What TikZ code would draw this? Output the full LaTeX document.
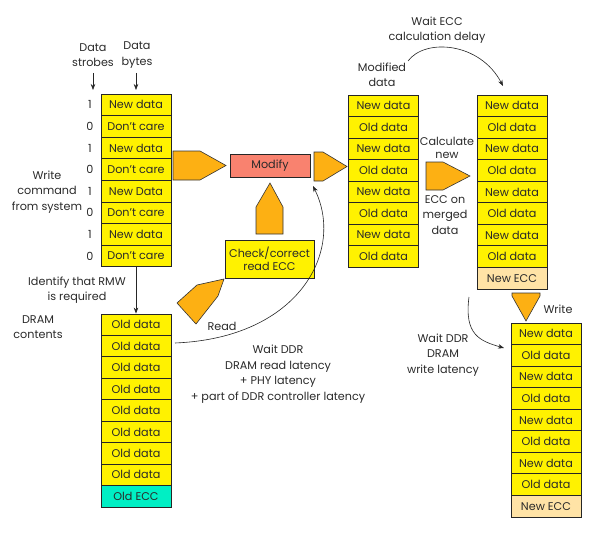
\documentclass[tikz,border=0pt]{standalone}
\usepackage{fontspec}
\setmainfont{Poppins}
\usetikzlibrary{arrows.meta}
\definecolor{cyel}{HTML}{FFF200}
\definecolor{corg}{HTML}{FDB013}
\definecolor{cmint}{HTML}{00EFC4}
\definecolor{ctan}{HTML}{FFE3A6}
\definecolor{csal}{HTML}{F9826F}
\definecolor{ctxt}{HTML}{2A2A2A}
\begin{document}
\begin{tikzpicture}[x=1pt,y=-1pt, font=\fontsize{11.2}{15.5}\selectfont,
 cell/.style={draw=black!85, line width=0.8pt, fill=cyel, minimum width=70pt, minimum height=21.5pt, inner sep=0pt, text=ctxt},
 lbl/.style={align=center, text=ctxt, inner sep=0pt},
 blockarrow/.style={fill=corg, draw=black!80, line width=0.6pt, line join=miter},
 con/.style={-{Stealth[length=6pt,width=4.5pt]}, line width=0.6pt, draw=black!85}]
\useasboundingbox (0,0) rectangle (595,535);

% column A: write data
\foreach \t [count=\i] in {New data,Don't care,New data,Don't care,New Data,Don't care,New data,Don't care}
  \node[cell] (A\i) at (136,{94+(\i-0.5)*21.6}) {\t};
\foreach \d [count=\i] in {1,0,1,0,1,0,1,0}
  \node[lbl] (S\i) at (90,{94+(\i-0.5)*21.6}) {\d};

% column B: DRAM contents
\foreach \t [count=\i] in {Old data,Old data,Old data,Old data,Old data,Old data,Old data,Old data}
  \node[cell] (B\i) at (136,{314+(\i-0.5)*21.45}) {\t};
\node[cell, fill=cmint] (B9) at (136,{314+8.5*21.45}) {Old ECC};

% column C: modified data
\foreach \t [count=\i] in {New data,Old data,New data,Old data,New data,Old data,New data,Old data}
  \node[cell] (C\i) at (383.5,{95+(\i-0.5)*21.5}) {\t};

% column D: with new ECC
\foreach \t [count=\i] in {New data,Old data,New data,Old data,New data,Old data,New data,Old data}
  \node[cell] (D\i) at (512,{95+(\i-0.5)*21.55}) {\t};
\node[cell, fill=ctan] (D9) at (512,{95+8.5*21.55}) {New ECC};

% column E: written to DRAM
\foreach \t [count=\i] in {New data,Old data,New data,Old data,New data,Old data,New data,Old data}
  \node[cell] (E\i) at (546,{323+(\i-0.5)*21.55}) {\t};
\node[cell, fill=ctan] (E9) at (546,{323+8.5*21.55}) {New ECC};

% process boxes
\node[cell, fill=csal, minimum width=80pt, minimum height=23pt] (mod) at (270,165.5) {Modify};
\node[cell, align=center, minimum width=89pt, minimum height=38pt, font=\fontsize{11.2}{13.5}\selectfont] (chk) at (269.5,259) {Check/correct\\read ECC};

% block arrows
\draw[blockarrow] (173,151) -- (200,151) -- (226,165.5) -- (200,180) -- (173,180) -- cycle;
\draw[blockarrow] (314,152) -- (323,152) -- (347,166.5) -- (323,181) -- (314,181) -- cycle;
\draw[blockarrow] (256,234) -- (256,207) -- (270,183) -- (283,207) -- (283,234) -- cycle;
\draw[blockarrow] (177,303) -- (197,285) -- (224,279) -- (218,296) -- (196,324) -- cycle;
\draw[blockarrow] (426,162) -- (443,162) -- (470,176) -- (443,190) -- (426,190) -- cycle;
\draw[blockarrow] (512,293) -- (540,293) -- (540,296) -- (526,321) -- (512,296) -- cycle;

% labels
\node[lbl] (lstr) at (93,55) {Data\\strobes};
\node[lbl] (lbyt) at (137,55) {Data\\bytes};
\coordinate (strtip) at (93,90);
\coordinate (byttip) at (136,90);
\draw[con] (93,73) -- (strtip);
\draw[con] (136,73) -- (byttip);
\node[lbl] (lwrite) at (47,192) {Write\\command\\from system};
\node[lbl] (lid) at (77,290) {Identify that RMW\\is required};
\node[lbl] (ldram) at (38,327) {DRAM\\contents};
\node[lbl] (lread) at (222,326) {Read};
\node[lbl] (lwdr) at (278,374) {Wait DDR\\DRAM read latency\\+ PHY latency\\+ part of DDR controller latency};
\node[lbl] (lmd) at (382,75) {Modified\\data};
\node[lbl] (lecc) at (437,30) {Wait ECC\\calculation delay};
\node[lbl, font=\fontsize{11.2}{12.5}\selectfont] (lcalc) at (447,148) {Calculate\\new};
\node[lbl] (lmerge) at (445,215) {ECC on\\merged\\data};
\node[lbl] (lwr) at (558,309) {Write};
\node[lbl] (lwwl) at (443,355) {Wait DDR\\DRAM\\write latency};

% connectors
\draw[con] (A8.south) -- (B1.north);
\coordinate (rdstart) at (175,343);
\coordinate (rdend) at (313,186);
\draw[con] (rdstart) .. controls (300,338) and (345,250) .. (rdend);
\coordinate (ecstart) at (408,61);
\coordinate (ecend) at (503,86);
\draw[con] (ecstart) .. controls (425,38) and (480,42) .. (ecend);
\coordinate (wlstart) at (469,297);
\coordinate (wlend) at (504,348);
\draw[con] (wlstart) .. controls (464,335) and (480,341) .. (wlend);
\end{tikzpicture}
\end{document}
